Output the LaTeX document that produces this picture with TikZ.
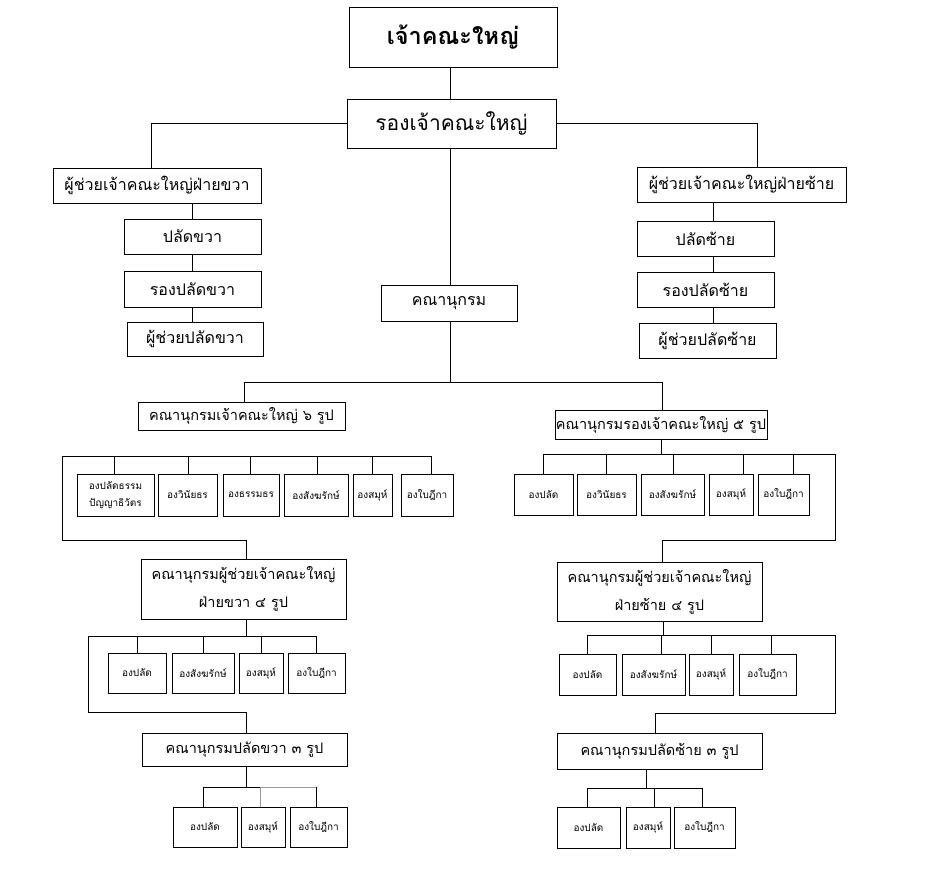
\documentclass[tikz,border=0pt]{standalone}
\usepackage{fontspec}
\setmainfont[Script=Thai]{Loma}
\usetikzlibrary{calc}
\newcommand\mydrop[3]{\draw[ln] ($(#1.north)+(#2,0)$) coordinate (tmp) -- (tmp |- #3);}
\begin{document}
\begin{tikzpicture}[x=1pt,y=-1pt,
  box/.style={draw, line width=0.9pt, inner sep=0pt, align=center},
  ln/.style={line width=0.9pt},
  fbig/.style={font=\fontsize{23.5}{27}\selectfont\bfseries},
  frong/.style={font=\fontsize{21}{25}\selectfont},
  fhead/.style={font=\fontsize{16}{20}\selectfont},
  fmid/.style={font=\fontsize{14.5}{28}\selectfont},
  fsmall/.style={font=\fontsize{10}{17}\selectfont},
  sz/.style 2 args={minimum width=#1pt, minimum height=#2pt}]
\fill[white] (0,0) rectangle (925,878);
\useasboundingbox (0,0) rectangle (925,878);

% top levels
\node[box, fbig, sz={208}{60}] (top) at (453,37) {เจ้าคณะใหญ่};
\node[box, frong, sz={209}{49}] (rong) at (451.5,123.5) {รองเจ้าคณะใหญ่};
\node[box, fhead, sz={208}{35}] (lh) at (157,185.5) {ผู้ช่วยเจ้าคณะใหญ่ฝ่ายขวา};
\node[box, fhead, sz={209}{35}] (rh) at (741.5,184.5) {ผู้ช่วยเจ้าคณะใหญ่ฝ่ายซ้าย};
\node[box, fhead, sz={137}{35}] (lp) at (192.5,236.5) {ปลัดขวา};
\node[box, fhead, sz={137}{36}] (lrp) at (192.5,289) {รองปลัดขวา};
\node[box, fhead, sz={136}{34}] (lap) at (195,339) {ผู้ช่วยปลัดขวา};
\node[box, fhead, sz={137}{35}] (rp) at (705.5,238.5) {ปลัดซ้าย};
\node[box, fhead, sz={137}{35}] (rrp) at (705.5,289.5) {รองปลัดซ้าย};
\node[box, fhead, sz={137}{35}] (rap) at (707.5,340.5) {ผู้ช่วยปลัดซ้าย};
\node[box, fhead, sz={136}{36}] (kn) at (449,303) {คณานุกรม};

% committees
\node[box, fmid, sz={207}{28}] (k6) at (241.5,416) {คณานุกรมเจ้าคณะใหญ่ ๖ รูป};
\node[box, fmid, sz={212}{29}] (k5) at (661,424.5) {คณานุกรมรองเจ้าคณะใหญ่ ๕ รูป};
\node[box, fmid, sz={205}{60}] (k4l) at (243.5,589) {คณานุกรมผู้ช่วยเจ้าคณะใหญ่\\ฝ่ายขวา ๔ รูป};
\node[box, fmid, sz={205}{59}] (k4r) at (659.5,591.5) {คณานุกรมผู้ช่วยเจ้าคณะใหญ่\\ฝ่ายซ้าย ๔ รูป};
\node[box, fmid, sz={205}{33}] (k3l) at (244.5,749.5) {คณานุกรมปลัดขวา ๓ รูป};
\node[box, fmid, sz={205}{36}] (k3r) at (659.5,751) {คณานุกรมปลัดซ้าย ๓ รูป};

% row under k6
\node[box, fsmall, sz={77}{42}] (a1) at (115.5,495) {องปลัดธรรม\\ปัญญาธิวัตร};
\node[box, fsmall, sz={59}{42}] (a2) at (187.5,495) {องวินัยธร};
\node[box, fsmall, sz={56}{42}] (a3) at (251,495) {องธรรมธร};
\node[box, fsmall, sz={64}{42}] (a4) at (316,495) {องสังฆรักษ์};
\node[box, fsmall, sz={39}{42}] (a5) at (372.5,495) {องสมุห์};
\node[box, fsmall, sz={52}{42}] (a6) at (427,495) {องใบฎีกา};

% row under k5
\node[box, fsmall, sz={59}{41}] (b1) at (543.5,494.5) {องปลัด};
\node[box, fsmall, sz={59}{41}] (b2) at (606.5,494.5) {องวินัยธร};
\node[box, fsmall, sz={63}{41}] (b3) at (672.5,494.5) {องสังฆรักษ์};
\node[box, fsmall, sz={44}{41}] (b4) at (731,494.5) {องสมุห์};
\node[box, fsmall, sz={51}{41}] (b5) at (783.5,494.5) {องใบฎีกา};

% row under k4l
\node[box, fsmall, sz={58}{40}] (c1) at (137,673) {องปลัด};
\node[box, fsmall, sz={62}{40}] (c2) at (203,673) {องสังฆรักษ์};
\node[box, fsmall, sz={44}{40}] (c3) at (261,673) {องสมุห์};
\node[box, fsmall, sz={57}{40}] (c4) at (316.5,673) {องใบฎีกา};

% row under k4r
\node[box, fsmall, sz={57}{41}] (d1) at (587.5,674.5) {องปลัด};
\node[box, fsmall, sz={63}{41}] (d2) at (653.5,674.5) {องสังฆรักษ์};
\node[box, fsmall, sz={44}{41}] (d3) at (711,674.5) {องสมุห์};
\node[box, fsmall, sz={57}{41}] (d4) at (767.5,674.5) {องใบฎีกา};

% row under k3l
\node[box, fsmall, sz={64}{40}] (e1) at (205,827) {องปลัด};
\node[box, fsmall, sz={44}{40}] (e2) at (263,827) {องสมุห์};
\node[box, fsmall, sz={57}{40}] (e3) at (318.5,827) {องใบฎีกา};

% row under k3r
\node[box, fsmall, sz={63}{41}] (f1) at (588.5,827.5) {องปลัด};
\node[box, fsmall, sz={44}{41}] (f2) at (648,827.5) {องสมุห์};
\node[box, fsmall, sz={61}{41}] (f3) at (704.5,827.5) {องใบฎีกา};

% ---------- connectors ----------
\coordinate (xm) at (450,0);
\coordinate (jl) at (151,0);
\coordinate (jr) at (757,0);
\coordinate (xl) at (192,0);
\coordinate (xr) at (713,0);
\draw[ln] (top.south -| xm) -- (rong.north -| xm);
\draw[ln] (rong.west) -| (jl |- lh.north);
\draw[ln] (rong.east) -| (jr |- rh.north);
\draw[ln] (lh.south -| xl) -- (lp.north -| xl);
\draw[ln] (lp.south -| xl) -- (lrp.north -| xl);
\draw[ln] (lrp.south -| xl) -- (lap.north -| xl);
\draw[ln] (rh.south -| xr) -- (rp.north -| xr);
\draw[ln] (rp.south -| xr) -- (rrp.north -| xr);
\draw[ln] (rrp.south -| xr) -- (rap.north -| xr);
\draw[ln] (rong.south -| xm) -- (kn.north -| xm);
\coordinate (B1) at (450,382);
\coordinate (B1l) at (244,382);
\coordinate (B1r) at (662,382);
\draw[ln] (kn.south -| xm) -- (B1);
\draw[ln] (B1l |- k6.north) -- (B1l) -- (B1r) -- (B1r |- k5.north);

% left row bus
\coordinate (La) at (62,456);
\coordinate (Lb) at (62,540);
\mydrop{a1}{-1.5}{La}
\mydrop{a2}{0.5}{La}
\mydrop{a3}{-1}{La}
\mydrop{a4}{1}{La}
\mydrop{a5}{-0.5}{La}
\mydrop{a6}{4}{La}
\coordinate (Lae) at ($(a6.north)+(4,0)$);
\draw[ln] (Lae |- La) -- (La) -- (Lb) -| ($(k4l.north)+(2.5,0)$);

% right row bus
\coordinate (Ra) at (835,454);
\coordinate (Rb) at (835,540);
\draw[ln] (k5.south) -- (k5.south |- Ra);
\mydrop{b1}{-0.5}{Ra}
\mydrop{b2}{-0.5}{Ra}
\mydrop{b3}{0.5}{Ra}
\mydrop{b4}{12}{Ra}
\mydrop{b5}{9.5}{Ra}
\coordinate (Ras) at ($(b1.north)+(-0.5,0)$);
\draw[ln] (Ras |- Ra) -- (Ra) -- (Rb) -| ($(k4r.north)+(2.5,0)$);

% under k4l
\coordinate (Lc) at (88,636);
\coordinate (Ld) at (88,712);
\draw[ln] ($(k4l.south)+(2.5,0)$) coordinate (tmp) -- (tmp |- Lc);
\mydrop{c1}{0}{Lc}
\mydrop{c2}{0}{Lc}
\mydrop{c3}{0}{Lc}
\mydrop{c4}{-0.5}{Lc}
\coordinate (Lce) at ($(c4.north)+(-0.5,0)$);
\draw[ln] (Lce |- Lc) -- (Lc) -- (Ld) -| ($(k3l.north)+(1.5,0)$);

% under k4r
\coordinate (Rc) at (835,635);
\coordinate (Rd) at (835,713);
\draw[ln] ($(k4r.south)+(3.5,0)$) coordinate (tmp) -- (tmp |- Rc);
\mydrop{d1}{-0.5}{Rc}
\mydrop{d2}{7.5}{Rc}
\mydrop{d3}{0}{Rc}
\mydrop{d4}{3.5}{Rc}
\coordinate (Rcs) at ($(d1.north)+(-0.5,0)$);
\draw[ln] (Rcs |- Rc) -- (Rc) -- (Rd) -| ($(k3r.north)+(-4.5,0)$);

% under k3l
\coordinate (Le) at (0,787);
\draw[ln] ($(k3l.south)+(1.5,0)$) coordinate (tmp) -- (tmp |- Le);
\coordinate (e1t) at ($(e1.north)+(-2,0)$);
\coordinate (e2t) at ($(e2.north)+(-3,0)$);
\coordinate (e3t) at ($(e3.north)+(-2.5,0)$);
\draw[ln] (e1t) -- (e1t |- Le) -- (e2t |- Le);
\draw[ln, gray!80] (e2t |- Le) -- (e3t |- Le);
\draw[ln, gray!80] (e2t) -- (e2t |- Le);
\draw[ln] (e3t) -- (e3t |- Le);

% under k3r
\coordinate (Re) at (0,788);
\draw[ln] ($(k3r.south)+(-13.5,0)$) coordinate (tmp) -- (tmp |- Re);
\mydrop{f1}{-1.5}{Re}
\mydrop{f2}{6}{Re}
\mydrop{f3}{-2.5}{Re}
\coordinate (f1t) at ($(f1.north)+(-1.5,0)$);
\coordinate (f3t) at ($(f3.north)+(-2.5,0)$);
\draw[ln] (f1t |- Re) -- (f3t |- Re);
\end{tikzpicture}
\end{document}
